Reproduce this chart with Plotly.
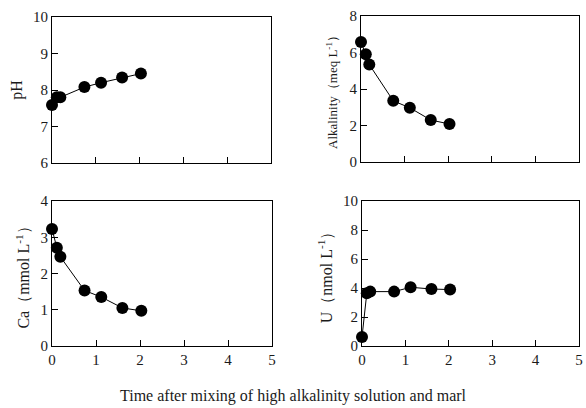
import plotly.graph_objects as go

time = [0, 0.11, 0.19, 0.74, 1.12, 1.6, 2.03]
ph = [7.59, 7.8, 7.8, 8.08, 8.2, 8.34, 8.45]
alkalinity = [6.58, 5.9, 5.34, 3.35, 2.97, 2.3, 2.08]
ca = [3.23, 2.71, 2.46, 1.53, 1.35, 1.05, 0.97]
u = [0.62, 3.63, 3.75, 3.75, 4.05, 3.93, 3.89]

FONT = "Liberation Serif, Times New Roman, serif"
fig = go.Figure()

series = [(ph, "x", "y"), (alkalinity, "x2", "y2"), (ca, "x3", "y3"), (u, "x4", "y4")]
for vals, xa, ya in series:
    fig.add_trace(go.Scatter(x=time, y=vals, xaxis=xa, yaxis=ya, mode="lines+markers",
                             line=dict(color="black", width=1),
                             marker=dict(color="black", size=12),
                             cliponaxis=False, showlegend=False))

W, H = 586, 408
def dx(a, b): return [a / W, b / W]
def dy(top, bot): return [1 - bot / H, 1 - top / H]

common = dict(showline=True, linecolor="black", linewidth=1, mirror=True,
              ticks="inside", tickcolor="black", ticklen=6, showgrid=False,
              zeroline=False, ticklabeloverflow="allow",
              tickfont=dict(family=FONT, size=15, color="#1a1a1a"))

fig.update_layout(
    width=W, height=H, margin=dict(l=0, r=0, t=0, b=0, autoexpand=False),
    plot_bgcolor="white", paper_bgcolor="white",
    font=dict(family=FONT, color="#1a1a1a"),
    xaxis=dict(domain=dx(52, 271), anchor="y", range=[0, 5], tickvals=[0, 1, 2, 3, 4, 5], showticklabels=False, **common),
    yaxis=dict(domain=dy(17, 163), anchor="x", range=[6, 10], dtick=1,
               title=dict(text="pH", font=dict(family=FONT, size=16), standoff=6), **common),
    xaxis2=dict(domain=dx(361, 579), anchor="y2", range=[0, 5], tickvals=[0, 1, 2, 3, 4, 5], showticklabels=False, **common),
    yaxis2=dict(domain=dy(16, 162), anchor="x2", range=[0, 8], dtick=2,
                title=dict(text="Alkalinity（meq L<sup>-1</sup>）", font=dict(family=FONT, size=13), standoff=8), **common),
    xaxis3=dict(domain=dx(52, 272), anchor="y3", range=[0, 5], dtick=1, **common),
    yaxis3=dict(domain=dy(201, 346), anchor="x3", range=[0, 4], dtick=1,
                title=dict(text="Ca（mmol L<sup>-1</sup>）", font=dict(family=FONT, size=16), standoff=6), **common),
    xaxis4=dict(domain=dx(362, 579), anchor="y4", range=[0, 5], dtick=1, **common),
    yaxis4=dict(domain=dy(201, 346), anchor="x4", range=[0, 10], dtick=2,
                title=dict(text="U（nmol L<sup>-1</sup>）", font=dict(family=FONT, size=16), standoff=6), **common),
    annotations=[dict(text="Time after mixing of high alkalinity solution and marl",
                      x=293 / W, y=1 - 396 / H, xref="paper", yref="paper",
                      xanchor="center", yanchor="middle",
                      showarrow=False, font=dict(family=FONT, size=16, color="#1a1a1a"))],
)

fig.write_html("out.html", config={"displayModeBar": False},
               post_script="document.body.style.margin='0';")
